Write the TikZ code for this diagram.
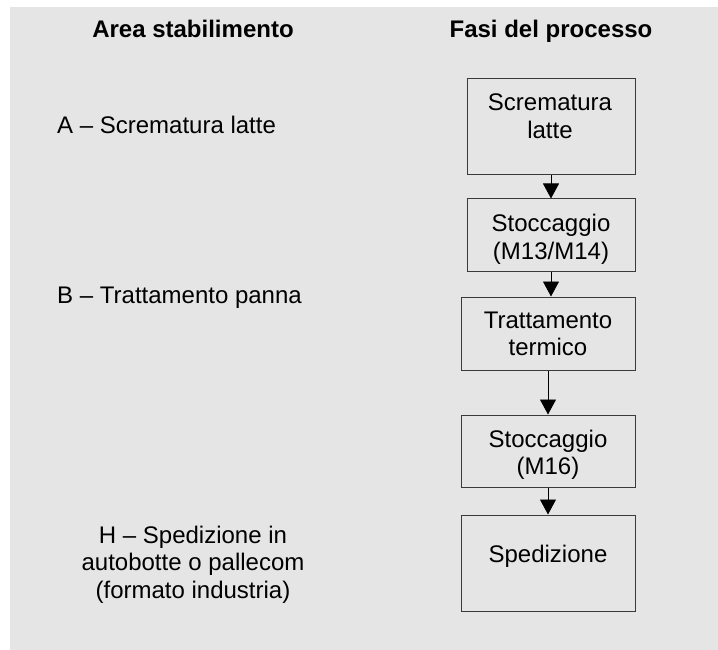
\documentclass[tikz,border=0pt]{standalone}
\usepackage{fontspec}
\setmainfont{Liberation Sans}
\usetikzlibrary{arrows.meta}
\definecolor{panel}{HTML}{E5E5E5}
\definecolor{edge}{HTML}{3A3A3A}
\tikzset{
  txt/.style={inner sep=0pt, align=center, font=\fontsize{24}{27.6}\selectfont},
  head/.style={txt, font=\fontsize{24}{27.6}\selectfont\bfseries},
  stepbox/.style={draw=edge, line width=1pt, inner sep=0pt},
  flow/.style={draw=black, line width=0.9pt, -{Triangle[length=15pt,width=16pt]}}
}
\begin{document}
\begin{tikzpicture}[x=1pt, y=-1pt]
\useasboundingbox (0,0) rectangle (718,650);
% backdrop
\fill[panel] (10,7) rectangle (718,650);

% column headings
\node[head, anchor=base] (hArea) at (193,38) {Area stabilimento};
\node[head, anchor=base] (hFasi) at (551,38) {Fasi del processo};

% plant areas (base anchor = baseline of the last line)
\node[txt, anchor=base west] (aA) at (57,134) {A -- Scrematura latte};
\node[txt, anchor=base west] (aB) at (57,303) {B -- Trattamento panna};
\node[txt, anchor=base] (aH) at (193,598.2) {H -- Spedizione in\\autobotte o pallecom\\(formato industria)};

% process steps
\node[stepbox, minimum width=168pt, minimum height=96pt] (b1) at (551,127) {};
\node[stepbox, minimum width=168pt, minimum height=72pt] (b2) at (551,235) {};
\node[stepbox, minimum width=174pt, minimum height=73pt] (b3) at (548,333.5) {};
\node[stepbox, minimum width=174pt, minimum height=72pt] (b4) at (548,451) {};
\node[stepbox, minimum width=174pt, minimum height=96pt] (b5) at (548,563) {};

\node[txt, anchor=base] (t1) at (550,138.6) {Scrematura\\latte};
\node[txt, anchor=base] (t2) at (551,259.6) {Stoccaggio\\(M13/M14)};
\node[txt, anchor=base] (t3) at (548,355.6) {Trattamento\\termico};
\node[txt, anchor=base] (t4) at (548,474.6) {Stoccaggio\\(M16)};
\node[txt, anchor=base] (t5) at (548,562) {Spedizione};

% flow between steps
\draw[flow] (b1.south) -- (b2.north);
\draw[flow] (b2.south) -- (b2.south |- b3.north);
\draw[flow] (b3.south) -- (b4.north);
\draw[flow] (b4.south) -- (b5.north);
\end{tikzpicture}
\end{document}
